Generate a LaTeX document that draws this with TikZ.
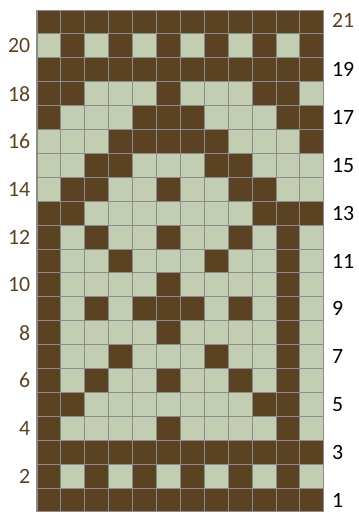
\documentclass[tikz,border=0pt]{standalone}
\usepackage{fontspec}
\setmainfont{Carlito}
\definecolor{bark}{HTML}{5A4223}
\definecolor{sage}{HTML}{C3CDB1}
\definecolor{gridgray}{HTML}{8C8C8C}
\colorlet{c1}{bark}
\colorlet{c0}{sage}
\tikzset{
  cell/.style={draw=gridgray,line width=0.6pt},
  rownum/.style={font=\fontsize{13}{15}\selectfont,inner sep=0pt}
}

\begin{document}
\begin{tikzpicture}[x=0.5cm,y=0.5cm]
\useasboundingbox (0,0) rectangle (15,21.42);

% chart rows, 1 = dark, 0 = light
\foreach \r/\pat in {
  21/{1,1,1,1,1,1,1,1,1,1,1,1},
  20/{0,1,0,1,0,1,0,1,0,1,0,1},
  19/{1,1,1,1,1,1,1,1,1,1,1,1},
  18/{1,1,0,0,0,1,0,0,0,1,1,0},
  17/{1,0,0,0,1,1,1,0,0,0,1,1},
  16/{0,0,0,1,1,1,1,1,0,0,0,1},
  15/{0,0,1,1,0,0,0,1,1,0,0,0},
  14/{0,1,1,0,0,1,0,0,1,1,0,0},
  13/{1,1,0,0,0,0,0,0,0,1,1,1},
  12/{1,0,1,0,0,1,0,0,1,0,1,0},
  11/{1,0,0,1,0,0,0,1,0,0,1,0},
  10/{1,0,0,0,0,1,0,0,0,0,1,0},
  9/{1,0,1,0,1,1,1,0,1,0,1,0},
  8/{1,0,0,0,0,1,0,0,0,0,1,0},
  7/{1,0,0,1,0,0,0,1,0,0,1,0},
  6/{1,0,1,0,0,1,0,0,1,0,1,0},
  5/{1,1,0,0,0,0,0,0,0,1,1,0},
  4/{1,0,0,0,0,1,0,0,0,0,1,0},
  3/{1,1,1,1,1,1,1,1,1,1,1,1},
  2/{1,0,1,0,1,0,1,0,1,0,1,0},
  1/{1,1,1,1,1,1,1,1,1,1,1,1}}{
  \foreach \v [count=\c] in \pat {
    \draw[cell,fill=c\v] (0.548+\c,\r-1) rectangle ++(1,1);
  }
}

% row numbers
\foreach \r in {2,4,...,20}
  \node[rownum,anchor=east,text=bark] (l\r) at (1.28,\r-0.5) {\r};
\foreach \r in {1,3,...,19}
  \node[rownum,anchor=west] (r\r) at (13.88,\r-0.5) {\r};
\node[rownum,anchor=west,text=bark] (r21) at (13.88,20.55) {21};

\end{tikzpicture}
\end{document}
